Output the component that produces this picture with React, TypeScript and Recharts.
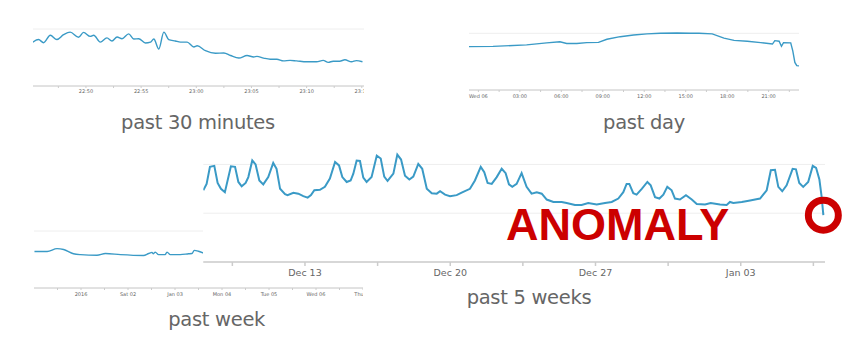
import { CartesianGrid, Line, LineChart, ReferenceDot, XAxis, YAxis } from 'recharts'

// past 30 minutes: minutes after 22:45
const minuteTimes = [
  0.18, 0.7, 1.16, 1.77, 2.36, 2.97, 3.57, 4.33, 4.78, 5.39, 5.7, 6.3, 6.9, 7.36, 7.82, 8.27, 8.87, 9.33,
  9.78, 10.39, 10.85, 11.15, 11.6, 12.06, 12.5, 13.1, 13.57, 14.17, 14.78, 15.08, 15.83, 16.74, 17.5, 18.1,
  18.86, 19.6, 20.2, 20.5, 21.1, 21.7, 22.3, 22.9, 23.5, 24.1, 25, 25.9, 26.5, 26.96, 27.4, 28, 28.47, 29.07,
  29.5, 30.06,
]
const minuteValues = [
  154, 163, 152, 178, 163, 180, 189, 171, 188, 174, 178, 154, 169, 158, 172, 166, 183, 165, 166, 151, 154,
  165, 130, 189, 163, 158, 154, 154, 137, 141, 124, 115, 116, 107, 98, 107, 102, 104, 98, 94, 94, 88, 90, 88,
  85, 85, 90, 83, 87, 87, 92, 85, 89, 85,
]
const minuteTicks = [2.5, 5, 7.5, 10, 12.5, 15, 17.5, 20, 22.5, 25, 27.5, 30]
const minuteTickLabels = ['', '22:50', '', '22:55', '', '23:00', '', '23:05', '', '23:10', '', '23:15']

// past day: hours after Wed 06 00:00
const dayHours = [
  -0.68, 1.06, 3.49, 4.94, 5.9, 6.39, 7.12, 7.84, 8.69, 9.3, 10.26, 11.23, 12.2, 13.17, 14.38, 15.35, 15.95,
  16.92, 17.77, 18.5, 19.46, 20.43, 21.28, 21.45, 21.76, 21.93, 22.08, 22.6, 22.75, 22.9, 23.04, 23.2,
]
const dayValues = [
  153, 154, 159, 166, 170, 164, 164, 167, 168, 179, 188, 194, 198, 200, 201, 200, 200, 198, 183, 175, 172,
  167, 162, 174, 172, 154, 167, 166, 138, 97, 86, 85,
]
const dayTicks = [0, 1.5, 3, 4.5, 6, 7.5, 9, 10.5, 12, 13.5, 15, 16.5, 18, 19.5, 21, 22.5]
const dayTickLabels = ['Wed 06', '', '03:00', '', '06:00', '', '09:00', '', '12:00', '', '15:00', '', '18:00', '', '21:00', '']

// past week: days after 2016-01-01 (the rest is hidden behind the 5-week chart)
const weekDays = [
  -0.99, -0.72, -0.51, -0.37, -0.16, -0.01, 0.34, 0.52, 0.84, 1.33, 1.44, 1.51, 1.54, 1.58, 1.65, 1.79, 1.83,
  1.9, 2.11, 2.29, 2.36, 2.41, 2.5, 2.61,
]
const weekValues = [
  128, 128, 138, 135, 120, 117, 115, 121, 117, 114, 121, 125, 120, 126, 117, 117, 126, 117, 117, 120, 121, 132,
  129, 122,
]
const weekTicks = [-0.5, 0, 0.5, 1, 1.5, 2, 2.5, 3, 3.5, 4, 4.5, 5, 5.5, 6]
const weekTickLabels = ['', '2016', '', 'Sat 02', '', 'Jan 03', '', 'Mon 04', '', 'Tue 05', '', 'Wed 06', '', 'Thu 07']

// past 5 weeks: days after Dec 13
const fiveWeekDays = [
  -4.9, -4.74, -4.58, -4.37, -4.21, -4.05, -3.86, -3.57, -3.37, -3.21, -3.05, -2.86, -2.73, -2.54, -2.38, -2.2,
  -2.01, -1.77, -1.53, -1.37, -1.2, -0.96, -0.84, -0.56, -0.32, -0.08, 0.13, 0.29, 0.45, 0.72, 0.96, 1.2, 1.45,
  1.64, 1.8, 2.01, 2.2, 2.33, 2.49, 2.65, 2.81, 2.97, 3.21, 3.46, 3.65, 3.82, 3.98, 4.26, 4.45, 4.63, 4.82, 5.03,
  5.22, 5.46, 5.65, 5.87, 6.11, 6.35, 6.51, 6.75, 6.99, 7.31, 7.55, 7.95, 8.19, 8.47, 8.64, 8.8, 9.0, 9.24, 9.48,
  9.67, 9.83, 9.99, 10.2, 10.44, 10.68, 10.92, 11.17, 11.41, 11.65, 11.97, 12.37, 12.61, 13.01, 13.33, 13.65,
  14.06, 14.46, 14.78, 15.1, 15.34, 15.5, 15.63, 15.82, 15.98, 16.23, 16.5, 16.66, 16.87, 17.08, 17.27, 17.46,
  17.67, 17.83, 18.07, 18.36, 18.64, 18.88, 19.28, 19.55, 20, 20.32, 20.48, 20.64, 21.05, 21.45, 21.69, 21.93,
  22.25, 22.45, 22.65, 22.81, 23.0, 23.21, 23.5, 23.66, 23.82, 24.01, 24.25, 24.47, 24.63, 24.79, 24.9, 24.98,
]
const fiveWeekValues = [
  147, 160, 195, 197, 162, 150, 143, 196, 195, 164, 155, 162, 174, 208, 200, 167, 159, 174, 203, 191, 150, 139,
  137, 142, 140, 135, 132, 137, 147, 148, 154, 171, 205, 198, 174, 164, 167, 181, 208, 207, 173, 164, 174, 218,
  212, 175, 166, 181, 220, 210, 177, 169, 175, 201, 191, 150, 141, 140, 145, 138, 135, 137, 142, 150, 167, 195,
  184, 162, 160, 174, 191, 182, 159, 154, 160, 182, 154, 140, 143, 140, 128, 123, 123, 121, 117, 117, 121, 118,
  121, 123, 130, 143, 160, 160, 141, 138, 150, 164, 157, 133, 130, 138, 154, 147, 130, 128, 137, 128, 119, 118,
  121, 118, 117, 123, 121, 123, 126, 128, 130, 147, 188, 189, 154, 145, 157, 191, 190, 162, 154, 164, 197, 193,
  169, 133, 96,
]
const fiveWeekTicks = [-3.5, 0, 3.5, 7, 10.5, 14, 17.5, 21, 24.5]
const fiveWeekTickLabels = ['', 'Dec 13', '', 'Dec 20', '', 'Dec 27', '', 'Jan 03', '']

const gridValues = [0, 100, 200]

const LINE = '#3a9ac6'
const FONT = 'DejaVu Sans'

const zip = (xs: number[], ys: number[]) => xs.map((x, i) => ({ x, y: ys[i] }))
const labeler = (ticks: number[], labels: string[]) => (v: number) => labels[ticks.indexOf(v)] ?? ''

interface SparkProps {
  left: number
  top: number
  width: number
  padLeft?: number
  data: { x: number; y: number }[]
  domain: [number, number]
  ticks: number[]
  labels: string[]
  curve: 'monotone' | 'linear'
  tickGap: number
}

function Spark({ left, top, width, padLeft = 0, data, domain, ticks, labels, curve, tickGap }: SparkProps) {
  return (
    <div style={{ position: 'absolute', left, top, width, height: 75 }}>
      <LineChart width={width} height={1 + 57 + 14} data={data} margin={{ top: 1, right: 0, bottom: 0, left: padLeft }}>
        <CartesianGrid vertical={false} stroke="#eeeeee" horizontalValues={gridValues} />
        <XAxis
          type="number"
          dataKey="x"
          domain={domain}
          allowDataOverflow
          ticks={ticks}
          interval={0}
          tickFormatter={labeler(ticks, labels)}
          height={14}
          stroke="#cccccc"
          tickSize={2}
          tickMargin={tickGap}
          tick={{ fontSize: 5, fill: '#666', fontFamily: FONT }}
        />
        <YAxis hide domain={[0, 200]} ticks={gridValues} />
        <Line type={curve} dataKey="y" stroke={LINE} strokeWidth={1.4} dot={false} isAnimationActive={false} />
      </LineChart>
    </div>
  )
}

export default function App() {
  const labelStyle = { fontFamily: FONT, fontSize: 19.5, fill: '#666', letterSpacing: -0.3 }
  return (
    <div style={{ position: 'absolute', left: 0, top: 0, width: 862, height: 364, background: '#fff' }}>
      <Spark
        left={33}
        top={28}
        width={331}
        data={zip(minuteTimes, minuteValues)}
        domain={[0.2, 30.2]}
        ticks={minuteTicks}
        labels={minuteTickLabels}
        curve="monotone"
        tickGap={1.5}
      />
      <Spark
        left={466}
        top={32}
        width={333}
        padLeft={3}
        data={zip(dayHours, dayValues)}
        domain={[-0.68, 23.2]}
        ticks={dayTicks}
        labels={dayTickLabels}
        curve="linear"
        tickGap={2}
      />
      <Spark
        left={34}
        top={230}
        width={329}
        data={zip(weekDays, weekValues)}
        domain={[-1, 6]}
        ticks={weekTicks}
        labels={weekTickLabels}
        curve="monotone"
        tickGap={2.5}
      />

      <div style={{ position: 'absolute', left: 203, top: 139, width: 640, height: 145, background: '#fff' }}>
        <LineChart
          width={640}
          height={145}
          data={zip(fiveWeekDays, fiveWeekValues)}
          margin={{ top: 1, right: 18, bottom: 0, left: 0.3 }}
        >
          <CartesianGrid vertical={false} stroke="#eeeeee" horizontalValues={gridValues} />
          <XAxis
            type="number"
            dataKey="x"
            domain={[-4.9, 25.06]}
            allowDataOverflow
            ticks={fiveWeekTicks}
            interval={0}
            tickFormatter={labeler(fiveWeekTicks, fiveWeekTickLabels)}
            height={22}
            stroke="#cccccc"
            strokeWidth={1.5}
            tickSize={4}
            tickMargin={3.5}
            tick={{ fontSize: 9.5, fill: '#666', fontFamily: FONT }}
          />
          <YAxis hide domain={[0, 250]} ticks={gridValues} />
          <Line type="linear" dataKey="y" stroke={LINE} strokeWidth={2} dot={false} isAnimationActive={false} />
          <ReferenceDot
            x={24.98}
            y={96}
            r={15}
            fill="none"
            stroke="#cc0000"
            strokeWidth={7}
            ifOverflow="visible"
          />
        </LineChart>
      </div>

      <svg width={862} height={364} style={{ position: 'absolute', left: 0, top: 0, pointerEvents: 'none' }}>
        <text x={198} y={128.5} textAnchor="middle" style={labelStyle}>past 30 minutes</text>
        <text x={644} y={128.5} textAnchor="middle" style={labelStyle}>past day</text>
        <text x={529} y={303.5} textAnchor="middle" style={labelStyle}>past 5 weeks</text>
        <text x={216.7} y={326.3} textAnchor="middle" style={labelStyle}>past week</text>
        <text x={506} y={239.5} fill="#cc0000" style={{ fontFamily: 'Liberation Sans', fontWeight: 700, fontSize: 45 }}>
          ANOMALY
        </text>
      </svg>
    </div>
  )
}
